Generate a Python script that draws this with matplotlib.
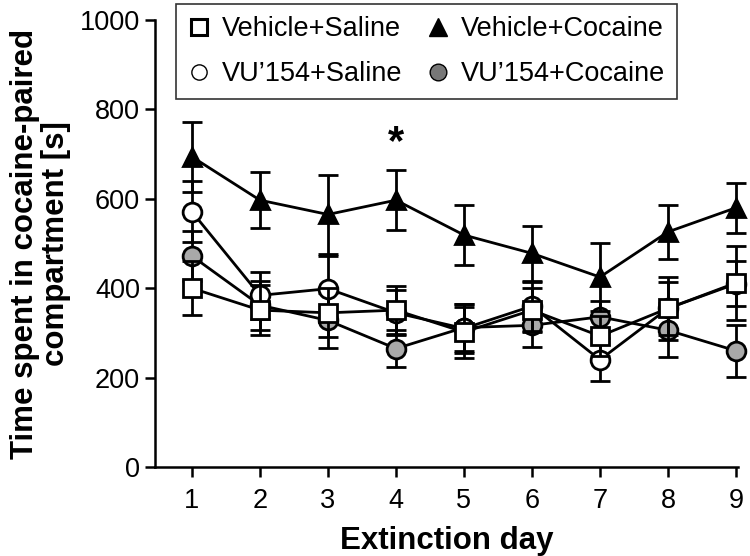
import matplotlib.pyplot as plt
from matplotlib.lines import Line2D
import numpy as np

plt.rcParams['font.family'] = ['Liberation Sans', 'DejaVu Sans']

# Data (mean +/- SEM, seconds)
days = [1, 2, 3, 4, 5, 6, 7, 8, 9]
veh_sal = [400, 351, 345, 351, 302, 351, 293, 355, 412]
veh_sal_err = [60, 56, 55, 53, 57, 50, 45, 70, 82]
veh_coc = [694, 597, 565, 597, 519, 478, 425, 526, 580]
veh_coc_err = [78, 62, 88, 67, 68, 61, 76, 61, 56]
vu_sal = [571, 384, 399, 345, 310, 360, 240, 355, 410]
vu_sal_err = [68, 53, 72, 50, 55, 55, 48, 60, 50]
vu_coc = [472, 362, 328, 265, 312, 317, 336, 306, 260]
vu_coc_err = [55, 55, 62, 42, 52, 48, 35, 60, 58]

labels = ["Vehicle+Saline", "Vehicle+Cocaine", "VU\u2019154+Saline", "VU\u2019154+Cocaine"]
grey = '#a9a9a9'

fig = plt.figure(figsize=(7.5, 5.56), dpi=100)
ax = fig.add_axes([0.207, 0.16, 0.777, 0.804])

common = dict(color='black', lw=2.0, elinewidth=2.0, capsize=7, capthick=2.0,
              markeredgecolor='black', markeredgewidth=2.0, ms=13.5, clip_on=False)

# draw order: grey circle, open circle, triangle, square on top
ax.errorbar(days, vu_coc, yerr=vu_coc_err, fmt='-o', markerfacecolor=grey, zorder=2, **common)
ax.errorbar(days, vu_sal, yerr=vu_sal_err, fmt='-o', markerfacecolor='white', zorder=3, **common)
ax.errorbar(days, veh_coc, yerr=veh_coc_err, fmt='-^', markerfacecolor='black', zorder=4, **common)
ax.errorbar(days, veh_sal, yerr=veh_sal_err, fmt='-s', markerfacecolor='white', zorder=5, **common)

# significance marker on day 4
ax.text(4, 725, '*', ha='center', va='center', fontsize=30, fontweight='bold')

ax.set_xlim(0.46, 9.03)
ax.set_ylim(0, 1000)
ax.set_xticks(days)
ax.set_yticks(np.arange(0, 1001, 200))
ax.tick_params(direction='out', length=7, width=1.8, labelsize=19.5, pad=4)
ax.tick_params(axis='x', pad=8)
for side in ['top', 'right']:
    ax.spines[side].set_visible(False)
for side in ['left', 'bottom']:
    ax.spines[side].set_linewidth(1.8)

ax.set_xlabel('Extinction day', fontsize=22.5, fontweight='bold', labelpad=9)
ax.set_ylabel('Time spent in cocaine-paired\ncompartment [s]', fontsize=22.5,
              fontweight='bold', labelpad=6, linespacing=1.05)

handles = [
    Line2D([], [], ls='', marker='s', ms=12, mfc='white', mec='black', mew=2.2),
    Line2D([], [], ls='', marker='o', ms=11, mfc='white', mec='black', mew=1.0),
    Line2D([], [], ls='', marker='^', ms=13, mfc='black', mec='black'),
    Line2D([], [], ls='', marker='o', ms=12, mfc='#777777', mec='black', mew=1.0),
]
leg_labels = [labels[0], labels[2], labels[1], labels[3]]
leg = fig.legend(handles, leg_labels, ncol=2, loc='upper left',
                 bbox_to_anchor=(176 / 750, 1 - 4 / 556), fontsize=19.5,
                 frameon=True, fancybox=False, edgecolor='black',
                 handlelength=0.8, handletextpad=0.45, columnspacing=0.9,
                 borderpad=0.45, labelspacing=0.7, borderaxespad=0)
leg.get_frame().set_linewidth(1.2)

fig.savefig('out.png', dpi=100)
